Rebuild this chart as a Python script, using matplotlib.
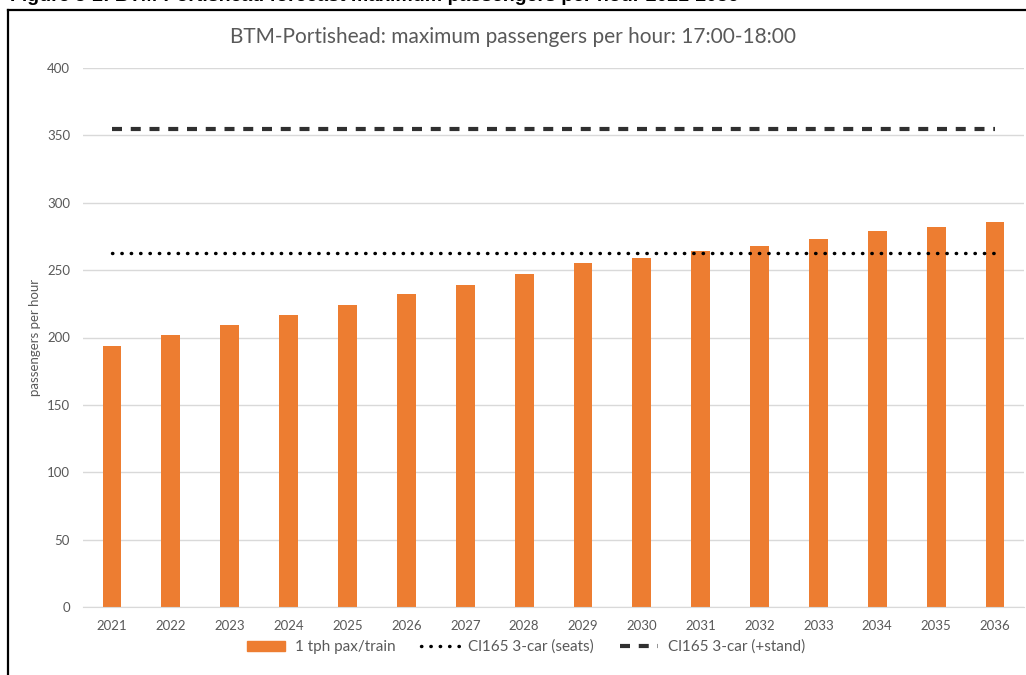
import matplotlib.pyplot as plt
from matplotlib.lines import Line2D
from matplotlib.patches import Patch

# Forecast peak-hour loading, BTM-Portishead, 17:00-18:00
years = [str(y) for y in range(2021, 2037)]
pax_per_train = [194, 202, 209, 217, 224, 232, 239, 247, 255, 259, 264, 268, 273, 279, 282, 286]
seats_3car = 263
stand_3car = 355

orange = '#ED7D31'
grey_txt = '#595959'
grid_col = '#D9D9D9'

plt.rcParams['font.family'] = ['Lato', 'DejaVu Sans']

fig = plt.figure(figsize=(10.26, 6.75), dpi=100)
ax = fig.add_axes([0.0805, 0.1007, 0.918, 0.7986])

x = range(len(years))
ax.bar(x, pax_per_train, width=0.32, color=orange, zorder=2, label='1 tph pax/train')
ax.plot(x, [seats_3car] * len(years), color='black', lw=2.5, dashes=(0.1, 2.6),
        dash_capstyle='round', zorder=3, label='Cl165 3-car (seats)')
ax.plot(x, [stand_3car] * len(years), color='#303030', lw=3, dashes=(2.4, 2.1),
        zorder=3, label='Cl165 3-car (+stand)')

ax.set_xlim(-0.5, len(years) - 0.5)
ax.set_ylim(0, 400)
ax.set_yticks(range(0, 401, 50))
ax.set_xticks(list(x))
ax.set_xticklabels(years)
ax.yaxis.grid(True, color=grid_col, lw=1, zorder=0)
ax.set_axisbelow(True)
for s in ['top', 'right', 'left']:
    ax.spines[s].set_visible(False)
ax.spines['bottom'].set_color(grid_col)
ax.tick_params(length=0, colors=grey_txt, labelsize=9.5, pad=9)
ax.set_ylabel('passengers per hour', color=grey_txt, fontsize=9.5)
ax.yaxis.set_label_coords(-0.044, 0.5)

fig.text(0.5, 1 - 37 / 675, 'BTM-Portishead: maximum passengers per hour: 17:00-18:00',
         ha='center', va='center', color=grey_txt, fontsize=15)

handles = [Patch(color=orange),
           Line2D([], [], color='black', lw=2.5, dashes=(0.1, 2.6), dash_capstyle='round'),
           Line2D([], [], color='#303030', lw=3, dashes=(2.4, 2.1))]
labels = ['1 tph pax/train', 'Cl165 3-car (seats)', 'Cl165 3-car (+stand)']
leg = fig.legend(handles, labels, loc='center', bbox_to_anchor=(526 / 1026, 1 - 647 / 675),
                 ncol=3, frameon=False, fontsize=11, handlelength=2.5,
                 handleheight=0.65, columnspacing=1.7, handletextpad=0.6)
for t in leg.get_texts():
    t.set_color(grey_txt)

# report caption, cut off above the frame
fig.text(0.01, 1 - 1 / 675, 'Figure 5-2: BTM-Portishead forecast maximum passengers per hour 2021-2036',
         ha='left', va='baseline', fontsize=14, fontweight='bold', color='black',
         family=['Liberation Sans', 'DejaVu Sans'])

# outer frame
fig.add_artist(Line2D([8 / 1026, 1.0], [1 - 10 / 675] * 2, color='black', lw=1.6,
                      transform=fig.transFigure))
fig.add_artist(Line2D([8 / 1026] * 2, [0, 1 - 10 / 675], color='black', lw=1.6,
                      transform=fig.transFigure))

fig.savefig('out.png', dpi=100)
